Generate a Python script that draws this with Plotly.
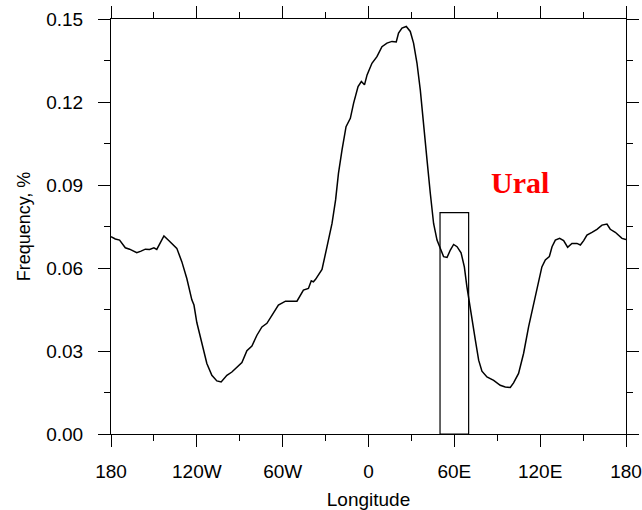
import plotly.graph_objects as go

lon = [-180, -177, -174, -170, -167, -162, -159, -156, -153, -150, -148, -146, -143, -140,
       -136.5, -134, -130.5, -127, -123.5, -122, -120, -116.5, -113, -109.5, -106, -103,
       -99, -95.5, -92, -88.5, -85, -81.5, -78, -74.5, -71, -67.5, -63, -58, -50, -45.5,
       -42, -40, -38.5, -37, -32.5, -29, -25.5, -23, -21, -18.5, -15.7, -12.7, -10.4,
       -7.3, -5, -2.8, -1, 2.4, 5.9, 9.4, 12.9, 16.4, 19.4, 21, 23.4, 26.4, 29.2, 31.5,
       33.9, 36.2, 38.5, 40.9, 43.2, 45.5, 47.9, 50.2, 52.5, 54.9, 57.2, 59.5, 61.9,
       64.7, 67, 68.8, 71.2, 74.7, 77, 79.3, 82.8, 87.5, 92.1, 95.6, 99.1, 101.4, 104.9,
       108.4, 111.9, 115.4, 118.9, 121.2, 123.6, 126.4, 128.3, 130.6, 133.6, 136.4,
       139.2, 142.2, 145.7, 148.1, 150.4, 152.7, 156.2, 159.7, 163.2, 166.7, 169, 172.5,
       177.2, 180]
freq = [0.0713, 0.0705, 0.0701, 0.0673, 0.0668, 0.0655, 0.0661, 0.0668, 0.0667, 0.0673,
        0.0667, 0.0689, 0.0716, 0.0701, 0.0683, 0.0671, 0.0623, 0.0562, 0.0485, 0.0466,
        0.0403, 0.0333, 0.0255, 0.0212, 0.0192, 0.0188, 0.0212, 0.0224, 0.0242, 0.0258,
        0.0301, 0.0318, 0.0357, 0.0387, 0.0400, 0.0430, 0.0466, 0.0480, 0.0480, 0.0520,
        0.0526, 0.0554, 0.0550, 0.0559, 0.0595, 0.0677, 0.0761, 0.0846, 0.0942, 0.1027,
        0.1111, 0.1141, 0.1196, 0.1256, 0.1274, 0.1262, 0.1298, 0.1340, 0.1364, 0.1400,
        0.1413, 0.1419, 0.1417, 0.1449, 0.1467, 0.1473, 0.1455, 0.1413, 0.1340, 0.1244,
        0.1111, 0.0991, 0.0870, 0.0761, 0.0701, 0.0671, 0.0641, 0.0638, 0.0665, 0.0685,
        0.0677, 0.0655, 0.0604, 0.0532, 0.0448, 0.0339, 0.0267, 0.0227, 0.0206, 0.0194,
        0.0176, 0.0170, 0.0168, 0.0185, 0.0219, 0.0291, 0.0387, 0.0472, 0.0556, 0.0604,
        0.0629, 0.0641, 0.0677, 0.0701, 0.0707, 0.0699, 0.0675, 0.0689, 0.0689, 0.0683,
        0.0699, 0.0719, 0.0729, 0.0740, 0.0755, 0.0759, 0.0740, 0.0729, 0.0707, 0.0703]

x_tickvals = [-180, -120, -60, 0, 60, 120, 180]
x_ticktext = ["180", "120W", "60W", "0", "60E", "120E", "180"]
y_tickvals = [0.0, 0.03, 0.06, 0.09, 0.12, 0.15]

box_lon = [50, 70]
box_freq = [0.0, 0.08]
label_text = "Ural"
label_pos = [106, 0.091]

fig = go.Figure()
fig.add_trace(go.Scatter(x=lon, y=freq, mode="lines",
                         line=dict(color="black", width=1.5), showlegend=False))

fig.add_shape(type="rect", xref="x", yref="y",
              x0=box_lon[0], x1=box_lon[1], y0=box_freq[0], y1=box_freq[1],
              line=dict(color="black", width=1.2))

fig.add_annotation(x=label_pos[0], y=label_pos[1], xref="x", yref="y", text="<b>%s</b>" % label_text,
                   showarrow=False,
                   font=dict(family="Liberation Serif", size=30, color="red"))

axis_font = dict(family="Liberation Sans", size=19, color="black")

fig.update_xaxes(range=[-180, 180], tickvals=x_tickvals, ticktext=x_ticktext,
                 showgrid=False, zeroline=False, showline=True, linecolor="black", linewidth=1,
                 mirror="ticks", ticks="outside", ticklen=12, tickwidth=1, tickcolor="black",
                 minor=dict(dtick=30, tick0=-180, ticklen=6, ticks="outside", tickcolor="black", tickwidth=1),
                 tickfont=axis_font, ticklabelstandoff=8, ticklabeloverflow="allow",
                 title=dict(text="Longitude", font=axis_font, standoff=12))
fig.update_yaxes(range=[0, 0.15], tickvals=y_tickvals, tickformat=".2f",
                 showgrid=False, zeroline=False, showline=True, linecolor="black", linewidth=1,
                 mirror="ticks", ticks="outside", ticklen=12, tickwidth=1, tickcolor="black",
                 minor=dict(dtick=0.015, tick0=0, ticklen=6, ticks="outside", tickcolor="black", tickwidth=1),
                 tickfont=axis_font, ticklabelstandoff=11,
                 title=dict(text="Frequency, %", font=dict(family="Liberation Sans", size=18, color="black"), standoff=10))

fig.update_layout(width=642, height=510, margin=dict(l=111, r=16, t=19, b=76, autoexpand=False),
                  plot_bgcolor="white", paper_bgcolor="white")

fig.write_html("out.html", config={"displayModeBar": False},
               post_script="document.body.style.margin='0';")
